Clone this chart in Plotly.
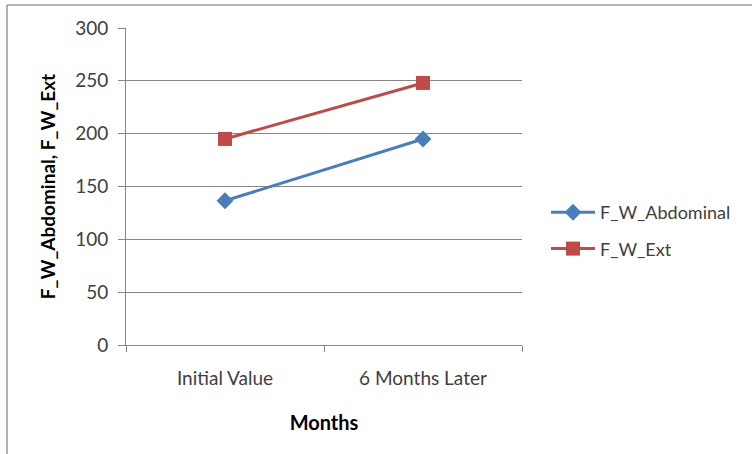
import plotly.graph_objects as go

categories = ["Initial Value", "6 Months Later"]
abdominal = [136.5, 195]
ext = [195, 248]
y_ticks = [0, 50, 100, 150, 200, 250, 300]

W, H = 752, 454
L, R, T, B = 126, 230, 28, 109
pw, ph = W - L - R, H - T - B

def px(x):
    return (x - L) / pw

def py(y):
    return (H - B - y) / ph

fig = go.Figure()
fig.add_trace(go.Scatter(
    x=categories, y=abdominal, name="F_W_Abdominal", mode="lines+markers",
    legendgroup="a",
    line=dict(color="#4a7ebb", width=3),
    marker=dict(symbol="diamond", size=13, color="#4a7ebb")))
fig.add_trace(go.Scatter(
    x=categories, y=ext, name="F_W_Ext", mode="lines+markers",
    legendgroup="b",
    line=dict(color="#be4b48", width=3),
    marker=dict(symbol="square", size=14, color="#be4b48")))

fig.update_layout(
    width=W, height=H,
    margin=dict(l=L, r=R, t=T, b=B, autoexpand=False),
    paper_bgcolor="white", plot_bgcolor="white",
    font=dict(family="Lato, Open Sans, sans-serif", size=19, color="#404040"),
    legend=dict(x=px(546), y=py(194), xanchor="left", yanchor="top",
                font=dict(size=18, color="#404040"), tracegroupgap=10,
                itemwidth=44, bgcolor="rgba(0,0,0,0)"),
    xaxis=dict(
        type="category", range=[-0.5, 1.5], tickson="boundaries",
        ticks="outside", ticklen=6, tickcolor="#868686",
        showline=True, linecolor="#868686", linewidth=1,
        showgrid=False, zeroline=False,
        title=dict(text="<b>Months</b>", font=dict(size=20, color="#000000"), standoff=28),
        tickfont=dict(size=19, color="#404040"), ticklabelstandoff=16),
    yaxis=dict(
        range=[0, 300], tickvals=y_ticks, ticks="outside", ticklen=7,
        tickcolor="#868686", showline=True, linecolor="#868686", linewidth=1,
        showgrid=True, gridcolor="#868686", gridwidth=1, zeroline=False,
        title=dict(text="<b>F_W_Abdominal, F_W_Ext</b>", font=dict(size=19, color="#000000"), standoff=14),
        tickfont=dict(size=19, color="#404040"), ticklabelstandoff=6),
    shapes=[
        dict(type="line", xref="paper", yref="paper", x0=px(7), x1=px(760), y0=py(5), y1=py(5),
             line=dict(color="#999999", width=1.5)),
        dict(type="line", xref="paper", yref="paper", x0=px(7), x1=px(7), y0=py(5), y1=py(460),
             line=dict(color="#999999", width=1.5)),
    ],
)

fig.write_html("out.html", config={"displayModeBar": False},
               post_script="document.body.style.margin='0';")
